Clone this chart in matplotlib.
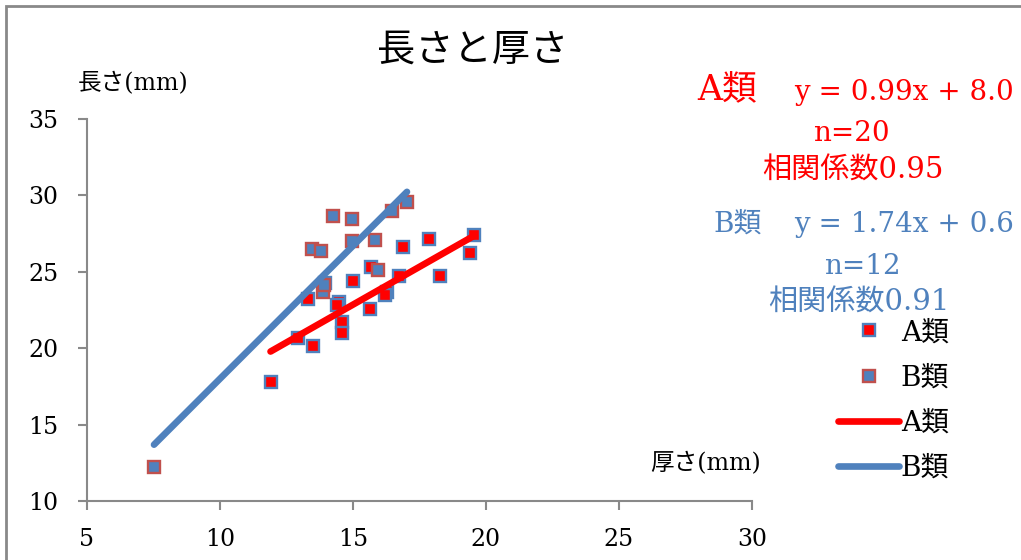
import matplotlib
matplotlib.use('Agg')
import matplotlib.pyplot as plt
from matplotlib.patches import Rectangle
import numpy as np

plt.rcParams['font.family'] = ['DejaVu Serif', 'Noto Sans CJK JP']

# A類 (厚さ, 長さ)
a_x = [11.9, 12.93, 13.5, 13.3, 14.47, 14.4, 14.59, 14.59, 15.0, 15.64,
       15.68, 16.28, 16.2, 16.88, 17.86, 18.27, 19.4, 19.55, 16.73, 13.95]
a_y = [17.8, 20.67, 20.14, 23.2, 23.0, 22.8, 21.7, 21.0, 24.4, 22.57,
       25.3, 23.7, 23.5, 26.6, 27.15, 24.7, 26.2, 27.4, 24.7, 24.27]
# B類
b_x = [7.52, 14.25, 14.96, 13.46, 13.8, 14.96, 15.83, 15.94, 13.87, 13.91, 17.03, 16.47]
b_y = [12.22, 28.65, 28.45, 26.5, 26.36, 27.0, 27.08, 25.1, 23.68, 24.14, 29.6, 29.0]

# trend lines (slope, intercept)
a_fit = (0.99, 8.0)
b_fit = (1.74, 0.6)

red = '#FF0000'
blue = '#4F81BD'
grey = '#898989'

fig = plt.figure(figsize=(10.21, 5.6), dpi=100)
ax = fig.add_axes([0.0852, 0.1054, 0.6513, 0.6821])

ax.plot(a_x, a_y, 's', ls='none', color=red, mec=blue, mew=1.7, ms=8, label='A類', zorder=3)
ax.plot(b_x, b_y, 's', ls='none', color=blue, mec='#C0504D', mew=1.7, ms=8, label='B類', zorder=3)

xa = np.array([min(a_x), max(a_x)])
xb = np.array([min(b_x), max(b_x)])
ax.plot(xa, a_fit[0] * xa + a_fit[1], color=red, lw=4.8, solid_capstyle='round', label='A類', zorder=4)
ax.plot(xb, b_fit[0] * xb + b_fit[1], color=blue, lw=4.8, solid_capstyle='round', label='B類', zorder=4)

ax.set_xlim(5, 30)
ax.set_ylim(10, 35)
ax.set_xticks([5, 10, 15, 20, 25, 30])
ax.set_yticks([10, 15, 20, 25, 30, 35])
for s in ['top', 'right']:
    ax.spines[s].set_visible(False)
for s in ['left', 'bottom']:
    ax.spines[s].set_color(grey)
    ax.spines[s].set_linewidth(1.5)
ax.tick_params(axis='both', direction='out', length=6.5, width=1.5, color=grey,
               labelsize=17)
ax.tick_params(axis='x', pad=13)
ax.tick_params(axis='y', pad=14)

fig.text(0.463, 0.91, '長さと厚さ', fontsize=27.5, ha='center', va='center')
fig.text(0.13, 0.85, '長さ(mm)', fontsize=17, ha='center', va='center')
fig.text(0.691, 0.172, '厚さ(mm)', fontsize=17, ha='center', va='center')

fig.text(0.712, 0.84, 'A類', fontsize=25, color=red, ha='center', va='center')
fig.text(0.885, 0.834, 'y = 0.99x + 8.0', fontsize=20, color=red, ha='center', va='center')
fig.text(0.834, 0.762, 'n=20', fontsize=20, color=red, ha='center', va='center')
fig.text(0.835, 0.695, '相関係数0.95', fontsize=21, color=red, ha='center', va='center')

fig.text(0.722, 0.6, 'B類', fontsize=20, color=blue, ha='center', va='center')
fig.text(0.885, 0.6, 'y = 1.74x + 0.6', fontsize=20, color=blue, ha='center', va='center')
fig.text(0.845, 0.525, 'n=12', fontsize=20, color=blue, ha='center', va='center')
fig.text(0.841, 0.459, '相関係数0.91', fontsize=21, color=blue, ha='center', va='center')

fig.legend(loc='upper left', bbox_to_anchor=(0.821, 0.43), frameon=False,
           fontsize=20, handlelength=2.2, handletextpad=0.05, labelspacing=0.65,
           borderpad=0, borderaxespad=0, numpoints=1)

# outer chart border (only left and top visible)
fig.patches.append(Rectangle((6 / 1021, -0.1), 1.2, 1.1 - 6 / 560,
                             transform=fig.transFigure, fill=False,
                             edgecolor=grey, lw=2, zorder=0))

fig.savefig('out.png', dpi=100)
